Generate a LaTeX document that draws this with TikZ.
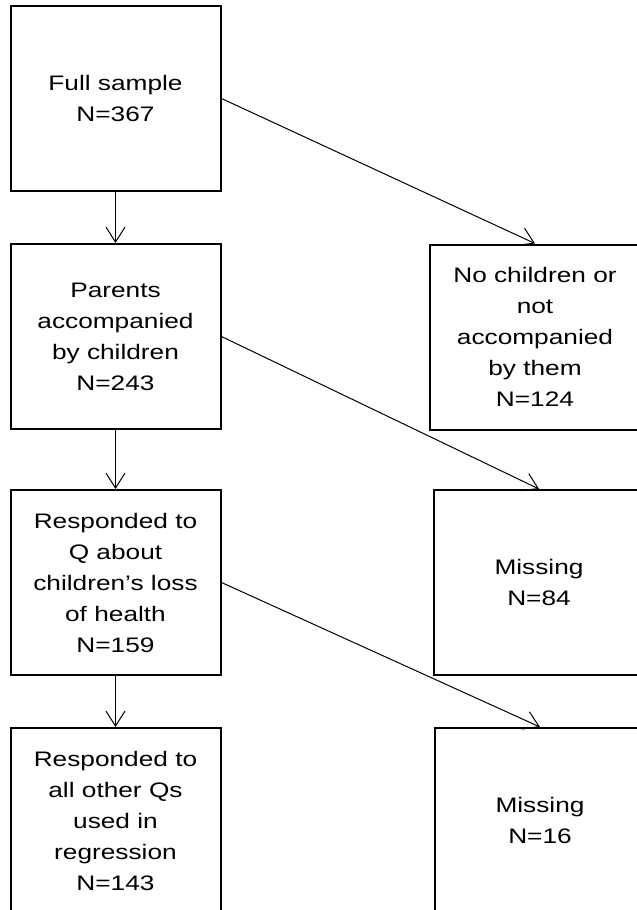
\documentclass[tikz,border=0pt]{standalone}
\usepackage{fontspec}
\setmainfont{Liberation Sans}[FakeStretch=1.25]
\usetikzlibrary{arrows.meta}

\begin{document}
\begin{tikzpicture}[x=1pt, y=-1pt, >={Straight Barb[length=15pt, width=19pt]},
  squarenode/.style={rectangle, draw, line width=2pt, minimum width=210pt, minimum height=185pt, inner sep=0pt, align=center, font=\fontsize{21}{31}\selectfont},
  link/.style={->, line width=1pt}]
\clip (0, 0) rectangle (637, 910);
\useasboundingbox (0, 0) rectangle (637, 910);
\node[squarenode] (full) at (115.5, 98.5) {Full sample\\N=367};
\node[squarenode] (parents) at (115.5, 336.5) {Parents\\accompanied\\by children\\N=243};
\node[squarenode] (responded) at (115.5, 582.5) {Responded to\\Q about\\children’s loss\\of health\\N=159};
\node[squarenode] (final) at (115.5, 820.5) {Responded to\\all other Qs\\used in\\regression\\N=143};
\node[squarenode] (nochild) at (535, 337) {No children or\\not\\accompanied\\by them\\N=124};
\node[squarenode] (miss1) at (539, 582.5) {Missing\\N=84};
\node[squarenode] (miss2) at (540, 820.5) {Missing\\N=16};
\draw[link] (full) -- (parents);
\draw[link] (parents) -- (responded);
\draw[link] (responded) -- (final);
\draw[link] (full.east) -- (nochild.north);
\draw[link] (parents.east) -- (miss1.north);
\draw[link] (responded.east) -- (miss2.north);

\end{tikzpicture}
\end{document}
